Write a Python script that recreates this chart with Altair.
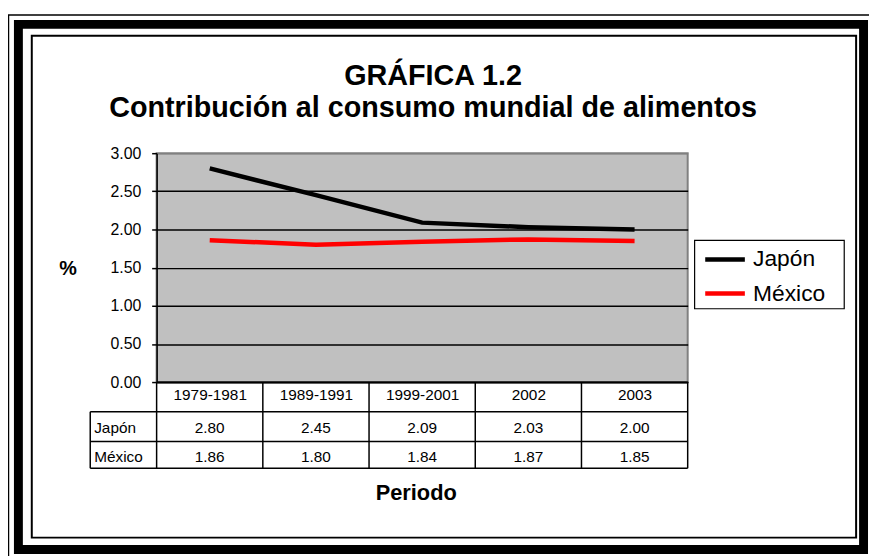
import altair as alt
import pandas as pd

# ---------------- data ----------------
periods = ["1979-1981", "1989-1991", "1999-2001", "2002", "2003"]
series = ["Japón", "México"]
japon = [2.80, 2.45, 2.09, 2.03, 2.00]
mexico = [1.86, 1.80, 1.84, 1.87, 1.85]
y_ticks = [0, 0.5, 1.0, 1.5, 2.0, 2.5, 3.0]
title_lines = ["GRÁFICA 1.2", "Contribución al consumo mundial de alimentos"]
x_title = "Periodo"
y_title = "%"
colors = ["#000000", "#FF0000"]

rows = []
for p, j, m in zip(periods, japon, mexico):
    rows.append({"period": p, "series": series[0], "value": j})
    rows.append({"period": p, "series": series[1], "value": m})
df = pd.DataFrame(rows)
df_periods = pd.DataFrame({"period": periods})
one = pd.DataFrame({"k": [0]})

FONT = "Liberation Sans"
W, H = 536, 231
STEP = W / len(periods)

x_scale = alt.Scale(type="point", domain=periods, padding=0.5)
y_scale = alt.Scale(domain=[0, 3], nice=False, zero=True)
color_scale = alt.Scale(domain=series, range=colors)

x_axis = alt.Axis(
    title=x_title, labelAngle=0, ticks=False, tickSize=0, labelPadding=13,
    labelBaseline="middle", labelFontSize=15.5, labelFont=FONT, labelColor="black",
    domainColor="black", domainWidth=2, grid=False,
    titleFontSize=22, titleFontWeight="bold", titleFont=FONT, titleColor="black",
    titleX=261.5, titleY=119, titleBaseline="alphabetic", titleAlign="center",
)
y_axis = alt.Axis(
    values=y_ticks, format=".2f", title=y_title, titleAngle=0, titleX=-90, titleY=116,
    titleFontSize=20, titleFontWeight="bold", titleFont=FONT, titleColor="black",
    titleBaseline="middle", titleAlign="center",
    tickSize=5, tickColor="black", tickWidth=1.5, labelPadding=11,
    labelFontSize=16, labelFont=FONT, labelColor="black",
    domainColor="black", domainWidth=1.5,
    grid=True, gridWidth=1.5,
    gridColor={"condition": {"test": "datum.value >= 3", "value": "#808080"}, "value": "black"},
)
x_enc = alt.X("period:N", scale=x_scale, axis=x_axis, sort=periods)
y_enc = alt.Y("value:Q", scale=y_scale, axis=y_axis)

# ---------------- frame (decoration) ----------------
def frame(x, y, x2, y2, sw, fill=None):
    kw = dict(stroke="black", strokeWidth=sw)
    if fill is None:
        kw["fillOpacity"] = 0
    else:
        kw["fill"] = fill
    return alt.Chart(one).mark_rect(**kw).encode(
        x=alt.value(x), y=alt.value(y), x2=alt.value(x2), y2=alt.value(y2))

frames = [
    frame(-149.5, -139.5, 730, 420, 1.5),
    frame(-139.5, -130, 713.5, 400, 9),
    frame(-126, -118.5, 706, 388, 2),
]

# ---------------- title ----------------
title_y = [-69, -37]
titles = [
    alt.Chart(pd.DataFrame({"t": [t]})).mark_text(
        fontSize=29, fontWeight="bold", font=FONT, color="black", align="center", baseline="alphabetic"
    ).encode(x=alt.value(279), y=alt.value(ty), text="t:N")
    for t, ty in zip(title_lines, title_y)
]

# ---------------- series lines ----------------
lines = alt.Chart(df).mark_line(strokeWidth=4.5).encode(
    x=x_enc, y=y_enc,
    color=alt.Color("series:N", scale=color_scale, legend=None),
)

# ---------------- legend ----------------
legend_box = frame(543, 88, 694, 157, 1.2, fill="white")
leg_y = {series[0]: 107.3, series[1]: 141.7}
legend_parts = [legend_box]
for s in series:
    d = pd.DataFrame({"series": [s]})
    legend_parts.append(
        alt.Chart(d).mark_rule(strokeWidth=4.5).encode(
            x=alt.value(553.7), x2=alt.value(593.7), y=alt.value(leg_y[s]),
            color=alt.Color("series:N", scale=color_scale, legend=None))
    )
    legend_parts.append(
        alt.Chart(d).mark_text(fontSize=23, font=FONT, color="black", align="left", baseline="middle")
        .encode(x=alt.value(602), y=alt.value(leg_y[s]), text="series:N")
    )

# ---------------- data table ----------------
def hrule(y):
    return alt.Chart(one).mark_rule(color="black", strokeWidth=1.5).encode(
        x=alt.value(-67), x2=alt.value(W), y=alt.value(y))

table_lines = [hrule(261), hrule(291), hrule(318)]
table_lines.append(alt.Chart(one).mark_rule(color="black", strokeWidth=1.5).encode(
    x=alt.value(-67), y=alt.value(261), y2=alt.value(318)))
table_lines.append(alt.Chart(one).mark_rule(color="black", strokeWidth=1.5).encode(
    x=alt.value(W), y=alt.value(231), y2=alt.value(318)))
col_seps = alt.Chart(df_periods).mark_rule(xOffset=-STEP / 2, color="black", strokeWidth=1.5).encode(
    x=x_enc, y=alt.value(231), y2=alt.value(318))

row_y = {series[0]: 277, series[1]: 306.5}
table_text = []
for s in series:
    table_text.append(
        alt.Chart(df).transform_filter(alt.datum.series == s)
        .mark_text(fontSize=15.5, font=FONT, color="black", baseline="middle")
        .encode(x=x_enc, y=alt.value(row_y[s]), text=alt.Text("value:Q", format=".2f"))
    )
    table_text.append(
        alt.Chart(pd.DataFrame({"series": [s]}))
        .mark_text(fontSize=15.5, font=FONT, color="black", baseline="middle", align="left")
        .encode(x=alt.value(-63), y=alt.value(row_y[s]), text="series:N")
    )

chart = alt.layer(*frames, *titles, lines, col_seps, *table_lines, *table_text, *legend_parts).properties(
    width=W, height=H,
    autosize="none",
    background="white",
    padding={"left": 150, "top": 144, "right": 183, "bottom": 173},
).configure_view(
    fill="#C0C0C0", stroke="#808080", strokeWidth=2,
)

chart.save("out.html", embed_options={"renderer": "svg", "actions": False})
